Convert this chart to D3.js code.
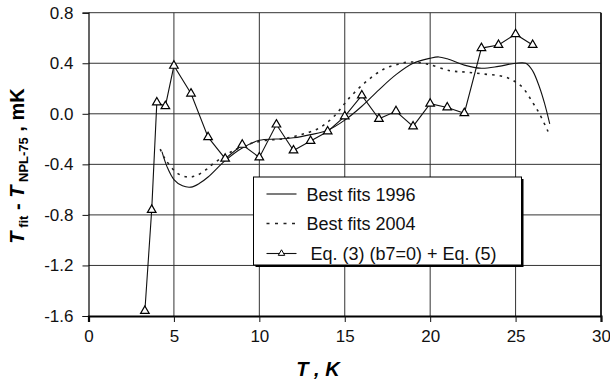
<!DOCTYPE html>
<html>
<head>
<meta charset="utf-8">
<script src="https://cdn.jsdelivr.net/npm/d3@7"></script>
<style>
body { margin: 0; background: #fff; }
svg { display: block; font-family: "Liberation Sans", Arial, sans-serif; }
</style>
</head>
<body>
<svg id="chart" width="610" height="382"></svg>
<script>
// data
const xTicks = [0, 5, 10, 15, 20, 25, 30];
const yTicks = [-1.6, -1.2, -0.8, -0.4, 0.0, 0.4, 0.8];
const legendLabels = ['Best fits 1996', 'Best fits 2004', 'Eq. (3) (b7=0) + Eq. (5)'];

const fit1996T = [4.3, 4.6, 5, 5.5, 6, 6.5, 7, 8, 9, 10, 11, 12, 13, 14, 15, 16, 17, 18, 19, 20, 20.5, 21, 22, 23, 24, 25, 25.6, 26, 26.4, 26.7, 27];
const fit1996V = [-0.30, -0.42, -0.52, -0.57, -0.58, -0.55, -0.50, -0.37, -0.27, -0.21, -0.20, -0.19, -0.165, -0.13, -0.05, 0.06, 0.19, 0.31, 0.40, 0.44, 0.45, 0.435, 0.385, 0.36, 0.375, 0.40, 0.40, 0.34, 0.21, 0.08, -0.08];

const fit2004T = [4.2, 4.5, 5.2, 5.8, 6.3, 6.9, 7.3, 8.5, 9.5, 10.4, 11.4, 12.4, 13.4, 14.3, 15.3, 16.3, 17.3, 18.2, 18.8, 19.8, 21.2, 22.1, 23.1, 24.3, 24.9, 25.4, 26, 26.4, 26.9];
const fit2004V = [-0.28, -0.36, -0.47, -0.50, -0.49, -0.44, -0.395, -0.29, -0.235, -0.21, -0.198, -0.166, -0.12, -0.03, 0.13, 0.26, 0.355, 0.395, 0.41, 0.395, 0.34, 0.33, 0.315, 0.295, 0.26, 0.21, 0.09, 0.0, -0.14];

const eqT = [3.3, 3.7, 4.0, 4.5, 5, 6, 7, 8, 9, 10, 11, 12, 13, 14, 15, 16, 17, 18, 19, 20, 21, 22, 23, 24, 25, 26];
const eqV = [-1.56, -0.76, 0.09, 0.06, 0.38, 0.16, -0.185, -0.355, -0.245, -0.345, -0.085, -0.29, -0.215, -0.14, -0.02, 0.145, -0.04, 0.02, -0.10, 0.08, 0.05, 0.005, 0.52, 0.545, 0.63, 0.545];

const svg = d3.select('#chart');
const plotL = 88.5, plotR = 601, plotT = 12.7, plotB = 316;

const x = d3.scaleLinear().domain([0, 30]).range([plotL, plotR]);
const y = d3.scaleLinear().domain([-1.6, 0.8]).range([plotB, plotT]);

// grid
svg.append('g')
	.selectAll('line')
	.data(xTicks.slice(1, -1))
	.enter().append('line')
	.attr('x1', d => x(d)).attr('x2', d => x(d))
	.attr('y1', plotT).attr('y2', plotB)
	.attr('stroke', '#333').attr('stroke-width', 1);
svg.append('g')
	.selectAll('line')
	.data(yTicks.slice(1))
	.enter().append('line')
	.attr('x1', plotL).attr('x2', plotR)
	.attr('y1', d => y(d)).attr('y2', d => y(d))
	.attr('stroke', '#333').attr('stroke-width', 1);

// frame
svg.append('line').attr('x1', plotR).attr('x2', plotR).attr('y1', plotT).attr('y2', plotB)
	.attr('stroke', '#111').attr('stroke-width', 1.8);

// axes (plain hyphen for negatives, like the original)
const fmtY = d => d3.format('.1f')(d).replace('\u2212', '-');
const xAxis = svg.append('g')
	.attr('transform', `translate(0,${plotB})`)
	.call(d3.axisBottom(x).tickValues(xTicks).tickSize(6).tickPadding(8).tickFormat(d3.format('d')));
const yAxis = svg.append('g')
	.attr('transform', `translate(${plotL},0)`)
	.call(d3.axisLeft(y).tickValues(yTicks).tickSize(6).tickPadding(9).tickFormat(fmtY));
[xAxis, yAxis].forEach(g => {
	g.selectAll('text').attr('font-size', 17).attr('fill', '#111')
		.attr('font-family', '"Liberation Sans", Arial, sans-serif');
	g.selectAll('line').attr('stroke', '#111');
});
xAxis.select('.domain').attr('stroke', '#000').attr('stroke-width', 2.2);
yAxis.select('.domain').attr('stroke', '#000').attr('stroke-width', 1.2);

// curves
const line = d3.line().x(d => x(d[0])).y(d => y(d[1])).curve(d3.curveCatmullRom);

svg.append('path')
	.datum(d3.zip(fit1996T, fit1996V))
	.attr('d', line)
	.attr('fill', 'none').attr('stroke', '#111').attr('stroke-width', 1.1);

svg.append('path')
	.datum(d3.zip(fit2004T, fit2004V))
	.attr('d', line)
	.attr('fill', 'none').attr('stroke', '#222').attr('stroke-width', 1.6)
	.attr('stroke-dasharray', '2.5,5');

const eqData = d3.zip(eqT, eqV);
svg.append('path')
	.datum(eqData)
	.attr('d', d3.line().x(d => x(d[0])).y(d => y(d[1])))
	.attr('fill', 'none').attr('stroke', '#111').attr('stroke-width', 1.1);

const tri = d3.symbol().type(d3.symbolTriangle).size(32);
svg.append('g')
	.selectAll('path')
	.data(eqData)
	.enter().append('path')
	.attr('d', tri)
	.attr('transform', d => `translate(${x(d[0])},${y(d[1])})`)
	.attr('fill', '#fff').attr('stroke', '#000').attr('stroke-width', 1.2);

// legend
const lg = svg.append('g').attr('transform', 'translate(253.5,177)');
const lw = 268, lh = 88;
lg.append('rect').attr('x', 2).attr('y', 2).attr('width', lw).attr('height', lh).attr('fill', '#000');
lg.append('rect').attr('width', lw).attr('height', lh).attr('fill', '#fff')
	.attr('stroke', '#000').attr('stroke-width', 1);

const rows = [17, 46.5, 76.5];
lg.append('line').attr('x1', 13).attr('x2', 43).attr('y1', rows[0]).attr('y2', rows[0])
	.attr('stroke', '#111').attr('stroke-width', 1.1);
lg.append('line').attr('x1', 13).attr('x2', 43).attr('y1', rows[1]).attr('y2', rows[1])
	.attr('stroke', '#222').attr('stroke-width', 1.4).attr('stroke-dasharray', '3,5.5');
lg.append('line').attr('x1', 13).attr('x2', 43).attr('y1', rows[2]).attr('y2', rows[2])
	.attr('stroke', '#111').attr('stroke-width', 1.1);
lg.append('path').attr('d', d3.symbol().type(d3.symbolTriangle).size(18))
	.attr('transform', `translate(28,${rows[2]})`)
	.attr('fill', '#fff').attr('stroke', '#000').attr('stroke-width', 1);

lg.selectAll('text.lt')
	.data(legendLabels)
	.enter().append('text')
	.attr('x', (d, i) => i == 2 ? 57 : 53)
	.attr('y', (d, i) => rows[i] + 6.5)
	.attr('font-size', 18).attr('fill', '#111')
	.text(d => d);

// axis titles
svg.append('text')
	.attr('x', 318).attr('y', 376)
	.attr('text-anchor', 'middle')
	.attr('font-size', 20).attr('font-weight', 'bold').attr('font-style', 'italic')
	.text('T , K');

const yt = svg.append('text')
	.attr('transform', 'translate(24,166) rotate(-90)')
	.attr('text-anchor', 'middle')
	.attr('font-size', 20).attr('font-weight', 'bold');
yt.append('tspan').attr('font-style', 'italic').text('T');
yt.append('tspan').attr('font-size', 13).attr('dy', 4).text(' fit');
yt.append('tspan').attr('dy', -4).text(' - ');
yt.append('tspan').attr('font-style', 'italic').text('T');
yt.append('tspan').attr('font-size', 13).attr('dy', 4).text(' NPL-75');
yt.append('tspan').attr('dy', -4).text(' , mK');
</script>
</body>
</html>
